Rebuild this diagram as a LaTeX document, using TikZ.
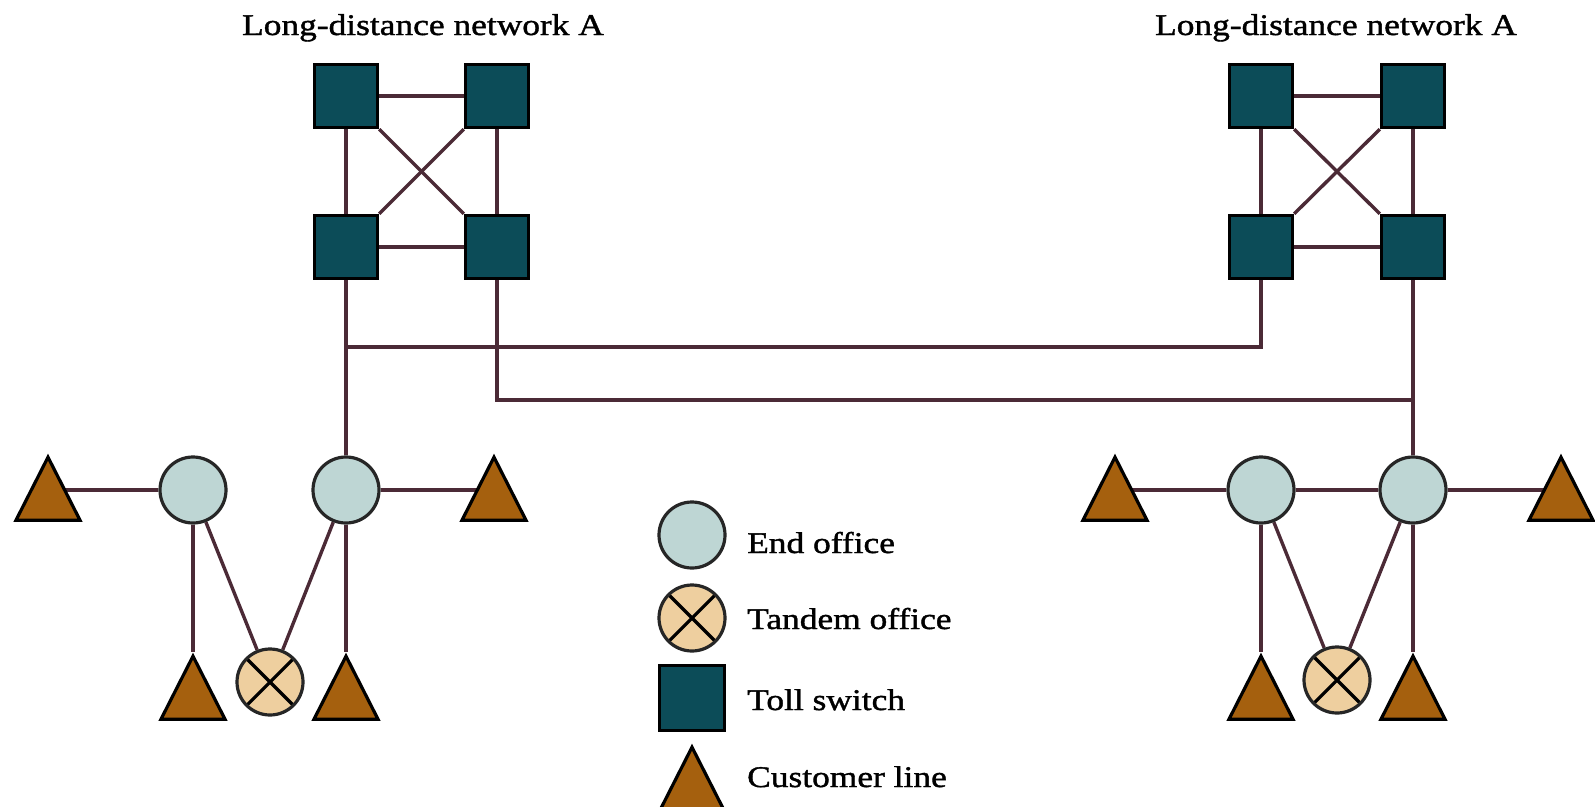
\documentclass[tikz,border=0pt]{standalone}
\usepackage{fontspec}
\setmainfont{Liberation Serif}[FakeStretch=1.18, FakeBold=1.3]
\usetikzlibrary{shapes.geometric,backgrounds}

\definecolor{tollfill}{HTML}{0C4C58}
\definecolor{endfill}{HTML}{BED6D4}
\definecolor{tandfill}{HTML}{EECF9F}
\definecolor{custfill}{HTML}{A5600E}
\definecolor{wirecol}{HTML}{4B2A36}

\tikzset{
  wire/.style={draw=wirecol, line width=3.4pt},
  toll/.style={rectangle, draw=black, fill=tollfill, line width=3.4pt,
    minimum size=63pt, inner sep=0pt},
  endoff/.style={circle, draw=black!85, fill=endfill, line width=3.2pt,
    minimum size=66pt, inner sep=0pt},
  tandem/.style={endoff, fill=tandfill,
    path picture={\draw[black, line width=3.2pt]
      (path picture bounding box.north west) -- (path picture bounding box.south east)
      (path picture bounding box.north east) -- (path picture bounding box.south west);}},
  cust/.style={isosceles triangle, isosceles triangle stretches, rotate=90,
    minimum width=64pt, minimum height=63pt, draw=black, fill=custfill,
    line width=3.2pt, inner sep=0pt, anchor=apex},
  txt/.style={font=\fontsize{30}{36}\selectfont, inner sep=0pt}
}

\begin{document}
\begin{tikzpicture}[x=1pt, y=-1pt]
\useasboundingbox (0,0) rectangle (1595,806);

% titles
\node[txt, anchor=base] (titleL) at (423,35) {Long-distance network A};
\node[txt, anchor=base] (titleR) at (1336,35) {Long-distance network A};

% toll switches, left network
\node[toll] (lTL) at (346,96) {};
\node[toll] (lTR) at (497,96) {};
\node[toll] (lBL) at (346,247) {};
\node[toll] (lBR) at (497,247) {};
% toll switches, right network
\node[toll] (rTL) at (1261,96) {};
\node[toll] (rTR) at (1413,96) {};
\node[toll] (rBL) at (1261,247) {};
\node[toll] (rBR) at (1413,247) {};

% left local area
\node[endoff] (e1) at (193,490) {};
\node[endoff] (e2) at (346,490) {};
\node[tandem] (t1) at (270,682) {};
\node[cust] (c1) at (48,453) {};
\node[cust] (c2) at (494,453) {};
\node[cust] (c3) at (193,652) {};
\node[cust] (c4) at (346,652) {};

% right local area
\node[endoff] (e3) at (1261,490) {};
\node[endoff] (e4) at (1413,490) {};
\node[tandem] (t2) at (1337,680) {};
\node[cust] (c5) at (1115,453) {};
\node[cust] (c6) at (1561,453) {};
\node[cust] (c7) at (1261,652) {};
\node[cust] (c8) at (1413,652) {};

% legend
\node[endoff] (kEnd) at (692,535) {};
\node[tandem] (kTan) at (692,618) {};
\node[toll, minimum size=65pt] (kToll) at (692,698) {};
\node[cust] (kCust) at (692,743) {};
\node[txt, anchor=base west] (lbEnd) at (747,553) {End office};
\node[txt, anchor=base west] (lbTan) at (747,629) {Tandem office};
\node[txt, anchor=base west] (lbToll) at (747,710) {Toll switch};
\node[txt, anchor=base west] (lbCust) at (747,787) {Customer line};

\coordinate (j1) at (346,347);
\coordinate (j2) at (1413,400);

\begin{scope}[on background layer]
  \fill[white] (0,0) rectangle (1595,806);
  % meshes inside the long-distance networks
  \foreach \n in {l,r} {
    \draw[wire] (\n TL) -- (\n TR);
    \draw[wire] (\n BL) -- (\n BR);
    \draw[wire] (\n TL) -- (\n BL);
    \draw[wire] (\n TR) -- (\n BR);
    \draw[wire] (\n TL.south east) -- (\n BR.north west);
    \draw[wire] (\n TR.south west) -- (\n BL.north east);
  }
  % trunks between networks and end offices
  \draw[wire] (lBL) -- (e2);
  \draw[wire] (rBL) |- (j1);
  \draw[wire] (lBR) |- (j2);
  \draw[wire] (rBR) -- (e4);
  % left local area
  \draw[wire] (e1) -- (e1 -| c1.apex);
  \draw[wire] (e2) -- (e2 -| c2.apex);
  \draw[wire] (e1) -- (c3.apex);
  \draw[wire] (e2) -- (c4.apex);
  \draw[wire] (e1) -- (t1);
  \draw[wire] (e2) -- (t1);
  % right local area
  \draw[wire] (e3) -- (e3 -| c5.apex);
  \draw[wire] (e4) -- (e4 -| c6.apex);
  \draw[wire] (e3) -- (e4);
  \draw[wire] (e3) -- (c7.apex);
  \draw[wire] (e4) -- (c8.apex);
  \draw[wire] (e3) -- (t2);
  \draw[wire] (e4) -- (t2);
\end{scope}
\end{tikzpicture}
\end{document}
